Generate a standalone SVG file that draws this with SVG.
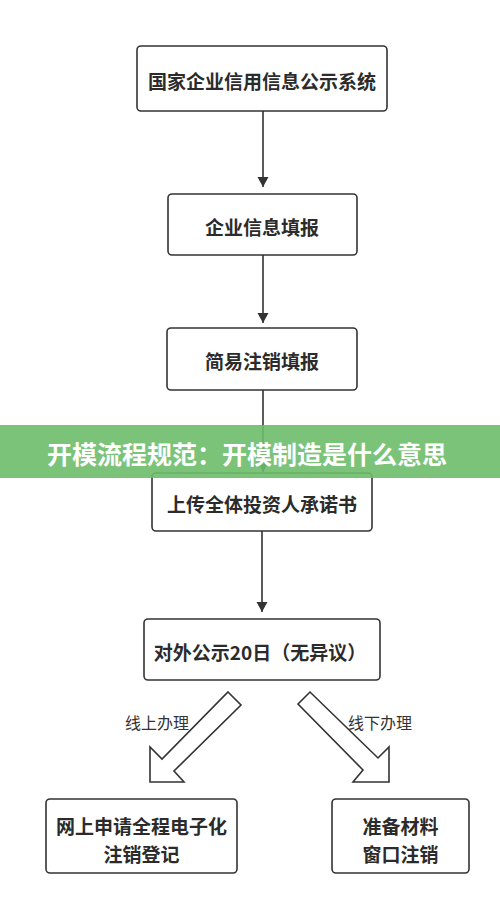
<svg xmlns="http://www.w3.org/2000/svg" width="500" height="904" viewBox="0 0 500 904">
<defs>
<style>
.box{fill:#fff;stroke:#333;stroke-width:1.6}
.t{font-family:"Noto Sans CJK SC","Noto Sans",sans-serif;font-weight:bold;font-size:19px;fill:#2b2b2b;text-anchor:middle;dominant-baseline:central}
.lbl{font-family:"Noto Sans CJK SC","Noto Sans",sans-serif;font-size:16px;fill:#333;dominant-baseline:central}
.con{stroke:#333;stroke-width:1.6;fill:none}
.hollow{fill:#fff;stroke:#333;stroke-width:1.6;stroke-linejoin:miter}
.banner-t{font-family:"Noto Sans CJK SC","Noto Sans",sans-serif;font-weight:bold;font-size:25px;fill:#fff;text-anchor:middle;dominant-baseline:central}
</style>
<marker id="ah" viewBox="0 0 10 14" refX="10" refY="7" markerWidth="10" markerHeight="14" markerUnits="userSpaceOnUse" orient="auto">
<path d="M0,1.5 L10,7 L0,12.5 Z" fill="#333"/>
</marker>
</defs>
<rect width="500" height="904" fill="#fff"/>
<g id="connectors">
<line class="con" x1="263" y1="111" x2="263" y2="187" marker-end="url(#ah)"/>
<line class="con" x1="263" y1="255" x2="263" y2="323" marker-end="url(#ah)"/>
<line class="con" x1="263" y1="390" x2="263" y2="472" marker-end="url(#ah)"/>
<line class="con" x1="262" y1="531" x2="262" y2="612" marker-end="url(#ah)"/>
<polygon class="hollow" points="228,692 241,705 174,771 184,782 150,782 150,747 162,759"/>
<polygon class="hollow" points="298,704 310,692 378,758 389,747 389,782 353,782 363,770"/>
<text class="lbl" x="125" y="722">线上办理</text>
<text class="lbl" x="348" y="722">线下办理</text>
</g>
<g id="n1"><rect class="box" x="137" y="46" width="250" height="65" rx="4"/><text class="t" x="262" y="80">国家企业信用信息公示系统</text></g>
<g id="n2"><rect class="box" x="168" y="194" width="189" height="61" rx="4"/><text class="t" x="262" y="226">企业信息填报</text></g>
<g id="n3"><rect class="box" x="167" y="328" width="190" height="62" rx="4"/><text class="t" x="262" y="360">简易注销填报</text></g>
<g id="n4"><rect class="box" x="152" y="473" width="220" height="58" rx="4"/><text class="t" x="262" y="503">上传全体投资人承诺书</text></g>
<g id="n5"><rect class="box" x="144" y="619" width="236" height="61" rx="4"/><text class="t" x="260" y="651">对外公示20日（无异议）</text></g>
<g id="n6"><rect class="box" x="46" y="799" width="191" height="74" rx="4"/><text class="t" x="141.5" y="824.5"><tspan x="141.5" y="824.5">网上申请全程电子化</tspan><tspan x="141.5" y="852.5">注销登记</tspan></text></g>
<g id="n7"><rect class="box" x="332" y="799" width="137" height="74" rx="4"/><text class="t" x="400.5" y="824.5"><tspan x="400.5" y="824.5">准备材料</tspan><tspan x="400.5" y="852.5">窗口注销</tspan></text></g>
<g id="banner">
<rect x="0" y="425" width="500" height="53" fill="#6ebd6b" opacity="0.9"/>
<text class="banner-t" x="247" y="453">开模流程规范：开模制造是什么意思</text>
</g>
</svg>
